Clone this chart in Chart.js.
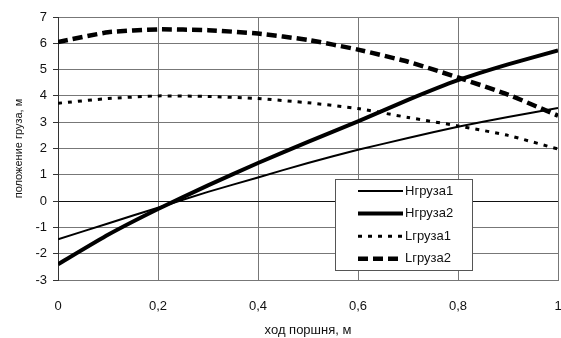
<!DOCTYPE html>
<html>
<head>
<meta charset="utf-8">
<script src="https://cdn.jsdelivr.net/npm/chart.js@4/dist/chart.umd.min.js"></script>
<style>
	html, body { margin: 0; padding: 0; background: #fff; }
	#wrap { width: 561px; height: 338px; }
</style>
</head>
<body>
<div id="wrap"><canvas id="chart"></canvas></div>
<script>
const xValues = [0, 0.1, 0.2, 0.3, 0.4, 0.5, 0.6, 0.7, 0.8, 0.9, 1]
const h1Values = [-1.45, -0.85, -0.25, 0.35, 0.9, 1.45, 1.95, 2.4, 2.83, 3.2, 3.54]
const h2Values = [-2.4, -1.28, -0.3, 0.6, 1.45, 2.25, 3.03, 3.85, 4.6, 5.2, 5.73]
const l1Values = [3.72, 3.9, 4.0, 3.98, 3.9, 3.74, 3.52, 3.18, 2.86, 2.5, 1.98]
const l2Values = [6.05, 6.42, 6.53, 6.5, 6.37, 6.13, 5.76, 5.3, 4.7, 4.05, 3.25]
const seriesNames = ['Hгруза1', 'Hгруза2', 'Lгруза1', 'Lгруза2']
const xTickLabels = { 0: '0', 0.2: '0,2', 0.4: '0,4', 0.6: '0,6', 0.8: '0,8', 1: '1' }

const font = 'Liberation Sans, Arial, sans-serif'
const toPoints = ys => xValues.map((x, i) => ({ x: x, y: ys[i] }))

// legend drawn inside the plot area, like the original
const innerLegend = {
	id: 'innerLegend',
	afterDraw(chart) {
		const ctx = chart.ctx
		const area = chart.chartArea
		const left = area.left + 277
		const top = area.top + 162
		const w = 137
		const h = 91
		ctx.save()
		ctx.fillStyle = '#fff'
		ctx.fillRect(left, top, w, h)
		ctx.strokeStyle = '#555'
		ctx.lineWidth = 1
		ctx.strokeRect(left + 0.5, top + 0.5, w, h)
		chart.data.datasets.forEach((ds, i) => {
			const y = top + 12 + i * 22.6
			ctx.beginPath()
			ctx.strokeStyle = '#000'
			ctx.lineWidth = ds.borderWidth
			ctx.setLineDash(ds.borderDash || [])
			ctx.moveTo(left + 23, y)
			ctx.lineTo(left + 68, y)
			ctx.stroke()
			ctx.setLineDash([])
			ctx.fillStyle = '#111'
			ctx.font = '13px ' + font
			ctx.textBaseline = 'middle'
			ctx.fillText(ds.label, left + 70, y)
		})
		ctx.restore()
	},
}

new Chart(document.getElementById('chart'), {
	type: 'line',
	data: {
		datasets: [
			{ label: seriesNames[0], data: toPoints(h1Values), borderColor: '#000', borderWidth: 2 },
			{ label: seriesNames[1], data: toPoints(h2Values), borderColor: '#000', borderWidth: 4 },
			{ label: seriesNames[2], data: toPoints(l1Values), borderColor: '#000', borderWidth: 3, borderDash: [4, 6] },
			{ label: seriesNames[3], data: toPoints(l2Values), borderColor: '#000', borderWidth: 4.5, borderDash: [10, 5] },
		],
	},
	options: {
		responsive: true,
		maintainAspectRatio: false,
		animation: false,
		elements: { point: { radius: 0 }, line: { tension: 0.15 } },
		layout: { padding: { top: 17, right: 3, left: 0, bottom: 0 } },
		plugins: {
			legend: { display: false },
			tooltip: { enabled: false },
		},
		scales: {
			x: {
				type: 'linear',
				min: 0,
				max: 1,
				afterBuildTicks: scale => {
					scale.ticks = Object.keys(xTickLabels).map(v => ({ value: Number(v) }))
				},
				afterFit: scale => { scale.height = 58 },
				ticks: {
					callback: v => xTickLabels[v],
					color: '#111',
					font: { family: font, size: 13 },
					padding: 19,
					maxRotation: 0,
				},
				grid: { color: '#777', lineWidth: 1, drawTicks: false },
				border: { color: '#777' },
				title: {
					display: true,
					text: 'ход поршня, м',
					color: '#111',
					font: { family: font, size: 13 },
					padding: { top: 3, bottom: 0 },
				},
			},
			y: {
				min: -3,
				max: 7,
				afterFit: scale => { scale.width = 58 },
				ticks: {
					stepSize: 1,
					color: '#111',
					font: { family: font, size: 13 },
					padding: 6,
				},
				grid: {
					color: ctx => (ctx.tick && ctx.tick.value === 0 ? '#111' : '#777'),
					lineWidth: 1,
					tickLength: 5,
					tickColor: '#333',
				},
				border: { color: '#333' },
				title: {
					display: true,
					text: 'положение груза, м',
					color: '#111',
					font: { family: font, size: 11 },
					padding: { top: 12, bottom: 0 },
				},
			},
		},
	},
	plugins: [innerLegend],
})
</script>
</body>
</html>
